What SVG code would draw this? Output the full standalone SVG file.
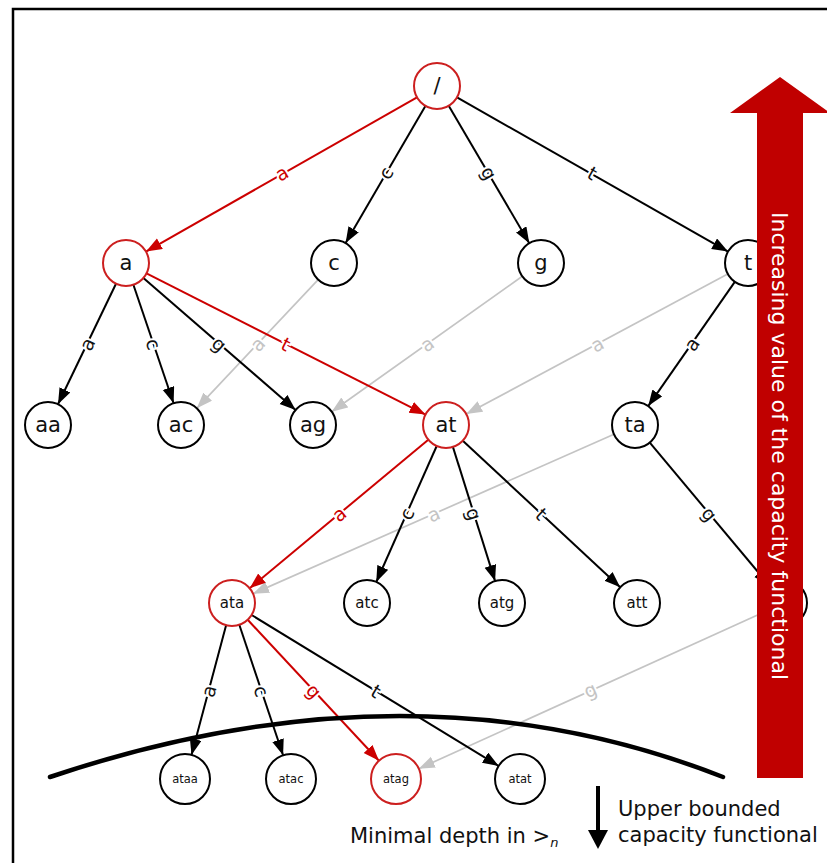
<svg xmlns="http://www.w3.org/2000/svg" width="827" height="863" viewBox="0 0 827 863">
<style>
.bg{fill:#fff}
.n circle{fill:#fff;stroke:#000;stroke-width:2}
.n.red circle{stroke:#CC1F1F}
.nl{font-family:"DejaVu Sans","Liberation Sans",sans-serif;text-anchor:middle;dominant-baseline:central;fill:#111}
.e{fill:none;stroke:#000;stroke-width:2;marker-end:url(#ab)}
.e.r{stroke:#CC0000;marker-end:url(#ar)}
.e.g{stroke:#C4C4C4;stroke-width:1.7;marker-end:url(#ag)}
.el{font-family:"DejaVu Sans","Liberation Sans",sans-serif;font-size:19px;text-anchor:middle;dominant-baseline:central;fill:#111;paint-order:stroke;stroke:#fff;stroke-width:4px}
.el.r{fill:#CC0000}
.el.g{fill:#C4C4C4}
.txt{font-family:"DejaVu Sans","Liberation Sans",sans-serif;font-size:21px;fill:#111}
</style>
<defs>
<marker id="ab" markerUnits="userSpaceOnUse" markerWidth="17" markerHeight="13" refX="16" refY="6" orient="auto"><path d="M0,0 L16,6 L0,12 z" fill="#000"/></marker>
<marker id="ar" markerUnits="userSpaceOnUse" markerWidth="17" markerHeight="13" refX="16" refY="6" orient="auto"><path d="M0,0 L16,6 L0,12 z" fill="#CC0000"/></marker>
<marker id="ag" markerUnits="userSpaceOnUse" markerWidth="17" markerHeight="13" refX="16" refY="6" orient="auto"><path d="M0,0 L16,6 L0,12 z" fill="#C4C4C4"/></marker>
</defs>
<rect class="bg" x="0" y="0" width="827" height="863"/>
<path d="M13,863 L13,9 L827,9" fill="none" stroke="#000" stroke-width="2.5"/>

<g id="connectors">
<path class="e g" d="M318.2,279.7 L196.8,408.3"/>
<path class="e g" d="M522.3,276.3 L331.7,411.7"/>
<path class="e g" d="M727.7,273.9 L466.3,414.1"/>
<path class="e g" d="M614,434.3 L253,593.7"/>
<path class="e g" d="M763.1,612.5 L418.8,768.7"/>
<path class="e r" d="M417,97.4 L146,251.6"/>
<path class="e" d="M425.4,105.9 L345.6,243.1"/>
<path class="e" d="M448.7,105.8 L529.3,243.2"/>
<path class="e" d="M457,97.4 L728,251.6"/>
<path class="e" d="M116,283.7 L58,404.3"/>
<path class="e" d="M133.4,284.8 L173.6,403.2"/>
<path class="e" d="M143.4,278.1 L295.6,409.9"/>
<path class="e r" d="M146.5,273.4 L425.5,414.6"/>
<path class="e" d="M734.8,281.9 L648.2,406.1"/>
<path class="e r" d="M428.3,439.7 L249.7,588.3"/>
<path class="e" d="M436.7,446 L376.3,582"/>
<path class="e" d="M452.9,446.9 L495.1,581.1"/>
<path class="e" d="M462.8,440.7 L620.2,587.3"/>
<path class="e" d="M649.8,442.6 L769.2,585.4"/>
<path class="e" d="M226.1,625.2 L191.5,754.9"/>
<path class="e" d="M239.3,624.8 L283.1,755.3"/>
<path class="e r" d="M247.7,619.8 L379,760.7"/>
<path class="e" d="M251.6,615 L498.7,766"/>

<text class="el g" transform="translate(257.5,344) rotate(-46.6)">a</text>
<text class="el g" transform="translate(427,344) rotate(-35.4)">a</text>
<text class="el g" transform="translate(597,344) rotate(-28.2)">a</text>
<text class="el g" transform="translate(433.5,514) rotate(-23.8)">a</text>
<text class="el g" transform="translate(590,690) rotate(-24.4)">g</text>
<text class="el r" transform="translate(281.5,173) rotate(-29.6)">a</text>
<text class="el" transform="translate(385.5,173) rotate(-59.8)">c</text>
<text class="el" transform="translate(489,173) rotate(59.6)">g</text>
<text class="el" transform="translate(592.5,173) rotate(29.6)">t</text>
<text class="el" transform="translate(87,344) rotate(-64.3)">a</text>
<text class="el" transform="translate(153.5,344) rotate(71.2)">c</text>
<text class="el" transform="translate(219.5,344) rotate(40.9)">g</text>
<text class="el r" transform="translate(286,344) rotate(26.8)">t</text>
<text class="el" transform="translate(691.5,344) rotate(-55.1)">a</text>
<text class="el r" transform="translate(339,514) rotate(-39.8)">a</text>
<text class="el" transform="translate(406.5,514) rotate(-66.1)">c</text>
<text class="el" transform="translate(474,514) rotate(72.5)">g</text>
<text class="el" transform="translate(541.5,514) rotate(43)">t</text>
<text class="el" transform="translate(709.5,514) rotate(50.1)">g</text>
<text class="el" transform="translate(208.5,691) rotate(-75)">a</text>
<text class="el" transform="translate(261.5,691) rotate(71.5)">c</text>
<text class="el r" transform="translate(314,691) rotate(47)">g</text>
<text class="el" transform="translate(376,691) rotate(31.4)">t</text>
</g>

<g id="root" class="n red"><circle cx="437" cy="86" r="23"/><text class="nl" x="437" y="86" font-size="21">/</text></g>
<g id="a" class="n red"><circle cx="126" cy="263" r="23"/><text class="nl" x="126" y="263" font-size="21">a</text></g>
<g id="c" class="n"><circle cx="334" cy="263" r="23"/><text class="nl" x="334" y="263" font-size="21">c</text></g>
<g id="g" class="n"><circle cx="541" cy="263" r="23"/><text class="nl" x="541" y="263" font-size="21">g</text></g>
<g id="t" class="n"><circle cx="748" cy="263" r="23"/><text class="nl" x="748" y="263" font-size="21">t</text></g>
<g id="aa" class="n"><circle cx="48" cy="425" r="23"/><text class="nl" x="48" y="425" font-size="21">aa</text></g>
<g id="ac" class="n"><circle cx="181" cy="425" r="23"/><text class="nl" x="181" y="425" font-size="21">ac</text></g>
<g id="ag" class="n"><circle cx="313" cy="425" r="23"/><text class="nl" x="313" y="425" font-size="21">ag</text></g>
<g id="at" class="n red"><circle cx="446" cy="425" r="23"/><text class="nl" x="446" y="425" font-size="21">at</text></g>
<g id="ta" class="n"><circle cx="635" cy="425" r="23"/><text class="nl" x="635" y="425" font-size="21">ta</text></g>
<g id="ata" class="n red"><circle cx="232" cy="603" r="23"/><text class="nl" x="232" y="603" font-size="15">ata</text></g>
<g id="atc" class="n"><circle cx="367" cy="603" r="23"/><text class="nl" x="367" y="603" font-size="15">atc</text></g>
<g id="atg" class="n"><circle cx="502" cy="603" r="23"/><text class="nl" x="502" y="603" font-size="15">atg</text></g>
<g id="att" class="n"><circle cx="637" cy="603" r="23"/><text class="nl" x="637" y="603" font-size="15">att</text></g>
<g id="tag" class="n"><circle cx="784" cy="603" r="23"/></g>
<g id="ataa" class="n"><circle cx="185" cy="779" r="25"/><text class="nl" x="185" y="779" font-size="11.5">ataa</text></g>
<g id="atac" class="n"><circle cx="291" cy="779" r="25"/><text class="nl" x="291" y="779" font-size="11.5">atac</text></g>
<g id="atag" class="n red"><circle cx="396" cy="779" r="25"/><text class="nl" x="396" y="779" font-size="11.5">atag</text></g>
<g id="atat" class="n"><circle cx="520" cy="779" r="25"/><text class="nl" x="520" y="779" font-size="11.5">atat</text></g>

<path id="boundary" d="M50,777 Q413,655 723,777" fill="none" stroke="#000" stroke-width="4.5" stroke-linecap="round"/>

<g id="capacity-arrow">
<polygon points="780,77 830,113 803,113 803,778 757,778 757,113 730,113" fill="#C00000"/>
<text transform="translate(772,212) rotate(90)" font-family="DejaVu Sans, Liberation Sans, sans-serif" font-size="21" fill="#fff" textLength="468" lengthAdjust="spacingAndGlyphs">Increasing value of the capacity functional</text>
</g>

<g id="legend">
<text class="txt" x="350" y="843">Minimal depth in &gt;<tspan font-size="13" font-style="italic" dy="4">n</tspan></text>
<line x1="598" y1="786" x2="598" y2="834" stroke="#000" stroke-width="4"/>
<polygon points="588,830 608,830 598,849" fill="#000"/>
<text class="txt" x="618" y="816">Upper bounded</text>
<text class="txt" x="618" y="842">capacity functional</text>
</g>
</svg>
